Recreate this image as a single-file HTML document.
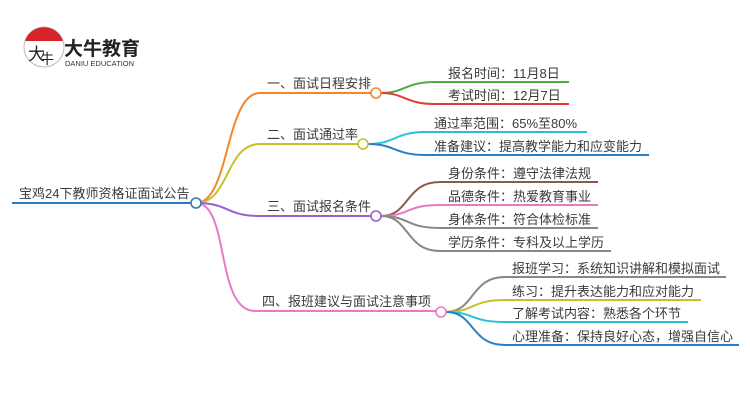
<!DOCTYPE html>
<html><head><meta charset="utf-8"><style>
html,body{margin:0;padding:0;background:#fff;}
svg{display:block;}
text{font-family:"Liberation Sans","Noto Sans CJK SC",sans-serif;fill:#3a3a3a;}
</style></head><body>
<svg width="750" height="410" viewBox="0 0 750 410" xmlns="http://www.w3.org/2000/svg">
<!-- logo -->
<circle cx="44" cy="47" r="20" fill="#fff" stroke="#bbb" stroke-width="1"/>
<path d="M25 41 A20 20 0 0 1 63 41 Z" fill="#d9232b"/>
<text x="28" y="60" font-size="17" style="fill:#222">大</text>
<text x="40" y="64" font-size="14" style="fill:#222">牛</text>
<text x="64" y="55" font-size="19" font-weight="bold" style="fill:#222">大牛教育</text>
<text x="65" y="66" font-size="7.5" style="fill:#333">DANIU EDUCATION</text>

<g fill="none" stroke-width="2">
<line x1="12" y1="203" x2="191" y2="203" stroke="#2a7bc1"/>
<path d="M196 203 C230 203 225 93 260 93 L371 93" stroke="#f5862a"/>
<path d="M196 203 C230 203 225 144 260 144 L358 144" stroke="#c3c22a"/>
<path d="M196 203 C230 203 225 216 260 216 L371 216" stroke="#9a5fcf"/>
<path d="M196 203 C230 203 215 311 255 311 L436 311" stroke="#e77ac8"/>
<path d="M381 93 C405 93 405 82 435 82 L569 82" stroke="#4caf3f"/>
<path d="M381 93 C405 93 405 104 435 104 L569 104" stroke="#e03c3c"/>
<path d="M368 144 C395 144 395 132 425 132 L587 132" stroke="#26c1d9"/>
<path d="M368 144 C395 144 395 155 425 155 L649 155" stroke="#2d7fc3"/>
<path d="M381 216 C410 216 405 182 440 182 L598 182" stroke="#8b5a4b"/>
<path d="M381 216 C410 216 405 205 440 205 L598 205" stroke="#e77ac8"/>
<path d="M381 216 C410 216 405 228 440 228 L598 228" stroke="#888"/>
<path d="M381 216 C410 216 405 251 440 251 L611 251" stroke="#888"/>
<path d="M446 312 C475 312 470 277 505 277 L726 277" stroke="#888"/>
<path d="M446 312 C475 312 470 300 505 300 L701 300" stroke="#c3c22a"/>
<path d="M446 312 C475 312 470 322 505 322 L688 322" stroke="#26c1d9"/>
<path d="M446 312 C475 312 470 345 505 345 L739 345" stroke="#2d7fc3"/>
</g>
<g fill="#fff" stroke-width="1.6">
<circle cx="196" cy="203" r="5" stroke="#2a7bc1"/>
<circle cx="376" cy="93" r="5" stroke="#f5862a"/>
<circle cx="363" cy="144" r="5" stroke="#c3c22a"/>
<circle cx="376" cy="216" r="5" stroke="#9a5fcf"/>
<circle cx="441" cy="312" r="5" stroke="#e77ac8"/>
</g>
<g font-size="13">
<text x="19" y="198" font-size="13">宝鸡24下教师资格证面试公告</text>
<text x="267" y="88">一、面试日程安排</text>
<text x="267" y="139">二、面试通过率</text>
<text x="267" y="211">三、面试报名条件</text>
<text x="262" y="306">四、报班建议与面试注意事项</text>
<text x="448" y="78">报名时间：11月8日</text>
<text x="448" y="100">考试时间：12月7日</text>
<text x="434" y="128">通过率范围：65%至80%</text>
<text x="434" y="151">准备建议：提高教学能力和应变能力</text>
<text x="448" y="178">身份条件：遵守法律法规</text>
<text x="448" y="201">品德条件：热爱教育事业</text>
<text x="448" y="224">身体条件：符合体检标准</text>
<text x="448" y="247">学历条件：专科及以上学历</text>
<text x="512" y="273">报班学习：系统知识讲解和模拟面试</text>
<text x="512" y="296">练习：提升表达能力和应对能力</text>
<text x="512" y="318">了解考试内容：熟悉各个环节</text>
<text x="512" y="341">心理准备：保持良好心态，增强自信心</text>
</g>
</svg>
</body></html>
